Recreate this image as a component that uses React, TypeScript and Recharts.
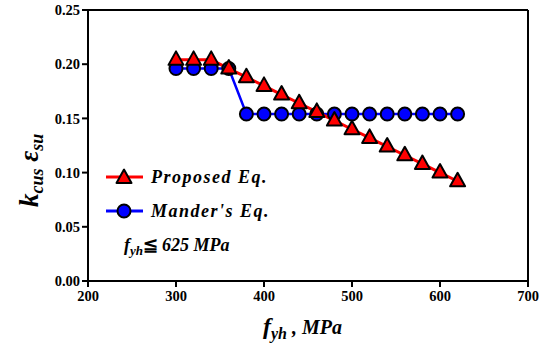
import { Line, LineChart, ReferenceLine, XAxis, YAxis } from "recharts";

const fyh = [300, 320, 340, 360, 380, 400, 420, 440, 460, 480, 500, 520, 540, 560, 580, 600, 620];
const proposed = [0.204, 0.204, 0.204, 0.196, 0.188, 0.18, 0.172, 0.164, 0.156, 0.148, 0.14, 0.132, 0.124, 0.116, 0.108, 0.1, 0.092];
const mander = [0.196, 0.196, 0.196, 0.196, 0.154, 0.154, 0.154, 0.154, 0.154, 0.154, 0.154, 0.154, 0.154, 0.154, 0.154, 0.154, 0.154];
const xTicks = [200, 300, 400, 500, 600, 700];
const yTicks = [0, 0.05, 0.1, 0.15, 0.2, 0.25];

const serif = "'Liberation Serif', 'Times New Roman', serif";

const data = fyh.map((x, i) => ({ x, proposed: proposed[i], mander: mander[i] }));

function Triangle({ cx, cy }: { cx: number; cy: number }) {
    return (
        <polygon
            points={`${cx},${cy - 8.5} ${cx - 7.5},${cy + 5} ${cx + 7.5},${cy + 5}`}
            fill="#ff0000"
            stroke="#000"
            strokeWidth={2}
            strokeLinejoin="round"
        />
    );
}

function Circle({ cx, cy }: { cx: number; cy: number }) {
    return <circle cx={cx} cy={cy} r={6.5} fill="#0000ff" stroke="#000" strokeWidth={2} />;
}

const tickStyle = { fontSize: 14.5, fontWeight: 700, fill: "#000", fontFamily: serif };

export default function App() {
    return (
        <div style={{ position: "absolute", left: 0, top: 0, width: 551, height: 349, background: "#fff" }}>
            <LineChart
                width={551}
                height={349}
                data={data}
                margin={{ top: 10, right: 23, bottom: 28, left: 28 }}
            >
                <XAxis
                    type="number"
                    dataKey="x"
                    domain={[200, 700]}
                    ticks={xTicks}
                    height={40}
                    stroke="#000"
                    strokeWidth={2}
                    tickSize={6}
                    tick={tickStyle}
                    tickMargin={4}
                />
                <YAxis
                    type="number"
                    domain={[0, 0.25]}
                    ticks={yTicks}
                    width={60}
                    stroke="#000"
                    strokeWidth={2}
                    tickSize={6}
                    tick={tickStyle}
                    tickMargin={2}
                    tickFormatter={(v) => Number(v).toFixed(2)}
                />
                <ReferenceLine y={0.25} stroke="#000" strokeWidth={2} />
                <ReferenceLine x={700} stroke="#000" strokeWidth={2} />
                <Line
                    dataKey="mander"
                    stroke="#0000ff"
                    strokeWidth={2.5}
                    isAnimationActive={false}
                    dot={(p: any) => <Circle key={`m${p.index}`} cx={p.cx} cy={p.cy} />}
                />
                <Line
                    dataKey="proposed"
                    stroke="#ff0000"
                    strokeWidth={3}
                    isAnimationActive={false}
                    dot={(p: any) => <Triangle key={`p${p.index}`} cx={p.cx} cy={p.cy} />}
                />
            </LineChart>

            {/* legend + note */}
            <svg width={551} height={349} style={{ position: "absolute", left: 0, top: 0, pointerEvents: "none" }}>
                <g fontFamily={serif} fontWeight={700} fontStyle="italic" fill="#000">
                    <line x1={106} y1={177} x2={143} y2={177} stroke="#ff0000" strokeWidth={3} />
                    <Triangle cx={124} cy={178} />
                    <text x={151} y={183} fontSize={18} letterSpacing={1.5}>Proposed Eq.</text>

                    <line x1={106} y1={211} x2={143} y2={211} stroke="#0000ff" strokeWidth={3} />
                    <Circle cx={124} cy={211} />
                    <text x={151} y={217} fontSize={18} letterSpacing={1.5}>Mander's Eq.</text>

                    <text x={124} y={251} fontSize={18}>
                        f<tspan fontSize={13} dy={4}>yh</tspan>
                        <tspan dy={-4} fontStyle="normal">≦</tspan>
                        <tspan dx={4}>625 MPa</tspan>
                    </text>

                    <text x={263} y={334} fontSize={24}>
                        f<tspan fontSize={16} dy={5}>yh</tspan>
                        <tspan dy={-5} fontSize={20}> , MPa</tspan>
                    </text>

                    <text transform="translate(38,207) rotate(-90)" fontSize={27}>
                        k<tspan fontSize={18} dy={5}>cus</tspan>
                        <tspan dy={-5}> ε</tspan>
                        <tspan fontSize={18} dy={5}>su</tspan>
                    </text>
                </g>
            </svg>
        </div>
    );
}
